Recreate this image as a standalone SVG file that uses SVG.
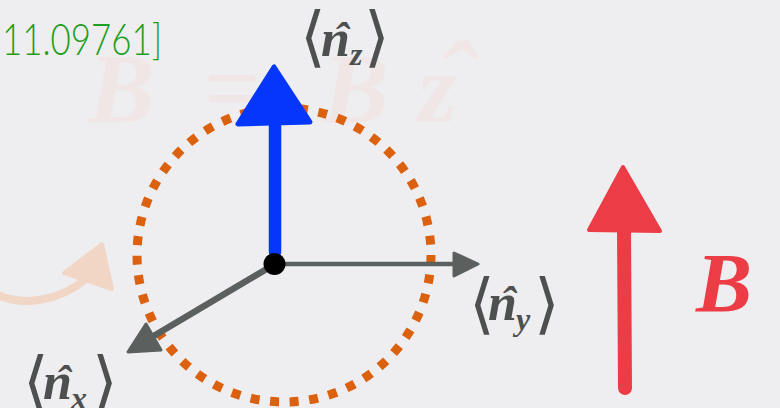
<svg xmlns="http://www.w3.org/2000/svg" width="780" height="408" viewBox="0 0 780 408">
<style>
.bg{fill:#eeeef0}
.faint{fill:#f0e6e6;font-family:"Liberation Serif",serif;font-style:italic;font-weight:bold}
.lbl{fill:#4e4f4f;font-family:"Liberation Serif",serif;font-style:italic;font-weight:bold}
.br{fill:#4e4f4f;font-family:"DejaVu Sans","DejaVu Serif",sans-serif;font-weight:200}
.gray{stroke:#5b5f5d;fill:none}
.grayhead{fill:#5b5f5d;stroke:#5b5f5d;stroke-width:3;stroke-linejoin:round}
</style>
<rect class="bg" x="0" y="0" width="780" height="408"/>
<g id="background-text">
<text class="faint" x="88" y="122" font-size="100">B</text>
<text class="faint" x="203" y="122" font-size="100">=</text>
<text class="faint" x="322" y="122" font-size="100">B</text>
<text class="faint" x="418" y="122" font-size="100">z</text>
<text class="faint" x="455" y="118" font-size="110" text-anchor="middle">ˆ</text>
</g>
<g id="ref">
<text x="2" y="55" font-family="Lato,'Open Sans',sans-serif" font-weight="300" font-size="44" fill="#1e9e22" textLength="160" lengthAdjust="spacingAndGlyphs">11.09761]</text>
</g>
<g id="faint-arrow">
<path d="M -2 295 C 22 306 58 302 86 279" fill="none" stroke="#f1d6c6" stroke-width="8" stroke-linecap="round"/>
<polygon points="64,273 102,244 112,289" fill="#f1d6c6" stroke="#f1d6c6" stroke-width="4" stroke-linejoin="round"/>
</g>
<g id="circle">
<circle cx="284" cy="255" r="147" fill="none" stroke="#dc610e" stroke-width="9" stroke-dasharray="9 10.65"/>
</g>
<g id="connectors">
<line class="gray" x1="275" y1="264" x2="456" y2="264" stroke-width="4.5"/>
<polygon class="grayhead" points="478,264 454,253 454,276"/>
<line class="gray" x1="275" y1="264" x2="152" y2="337" stroke-width="6.5"/>
<polygon class="grayhead" points="128,352 146,324 161,350"/>
<line x1="275" y1="252" x2="275" y2="118" stroke="#0536fb" stroke-width="12.5" stroke-linecap="round"/>
<polygon points="274,67 238,124 310,122" fill="#0536fb" stroke="#0536fb" stroke-width="5" stroke-linejoin="round"/>
</g>
<g id="origin">
<circle cx="274.5" cy="264" r="11" fill="#000"/>
</g>
<g id="label-nz">
<text class="br" x="300" y="59" font-size="66">⟨</text>
<text class="lbl" x="321" y="56" font-size="52">n</text>
<text class="lbl" x="341" y="53" font-size="44" text-anchor="middle">ˆ</text>
<text class="lbl" x="350" y="65" font-size="32">z</text>
<text class="br" x="364" y="59" font-size="66">⟩</text>
</g>
<g id="label-ny">
<text class="br" x="469" y="326" font-size="66">⟨</text>
<text class="lbl" x="488" y="320" font-size="52">n</text>
<text class="lbl" x="508" y="317" font-size="44" text-anchor="middle">ˆ</text>
<text class="lbl" x="516" y="330" font-size="32">y</text>
<text class="br" x="534" y="326" font-size="66">⟩</text>
</g>
<g id="label-nx">
<text class="br" x="23" y="404" font-size="66">⟨</text>
<text class="lbl" x="43" y="399" font-size="52">n</text>
<text class="lbl" x="63" y="396" font-size="44" text-anchor="middle">ˆ</text>
<text class="lbl" x="71" y="409" font-size="32">x</text>
<text class="br" x="92" y="404" font-size="66">⟩</text>
</g>
<g id="B-field">
<line x1="625" y1="388" x2="624" y2="228" stroke="#ec3d47" stroke-width="14" stroke-linecap="round"/>
<polygon points="623,167 589,230 660,231" fill="#ec3d47" stroke="#ec3d47" stroke-width="4" stroke-linejoin="round"/>
<text x="696" y="312" font-family="Liberation Serif,serif" font-style="italic" font-weight="bold" font-size="84" fill="#ec3d47">B</text>
</g>
</svg>
